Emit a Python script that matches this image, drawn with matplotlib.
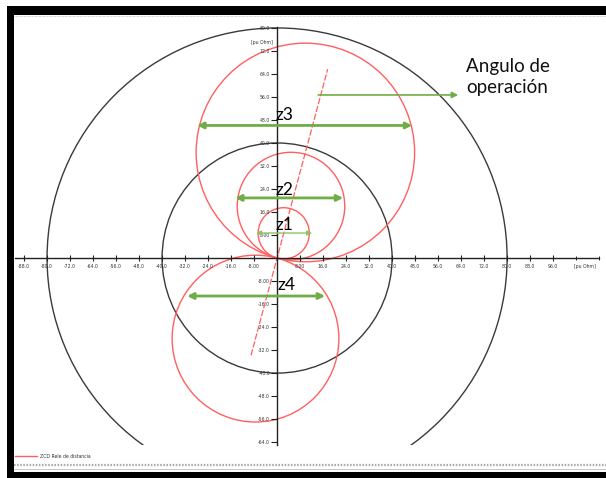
import numpy as np
import matplotlib
matplotlib.use("Agg")
import matplotlib.pyplot as plt
from matplotlib.patches import Circle, Rectangle
from matplotlib.lines import Line2D

# ---------------- data ----------------
zone_names = ["z1", "z2", "z3", "z4"]
zone_reach = [17.8, 37.4, 76.0, 58.0]      # mho circle diameter [pu Ohm]
zone_angle = [75, 75, 75, 255]             # characteristic angle [deg]
ref_radii = [40, 80]                       # reference circles [pu Ohm]
mta_angle = 75                             # operating angle [deg]
mta_span = [-35, 68]                       # extent of the operating-angle line
x_ticks = [-88, -80, -72, -64, -56, -48, -40, -32, -24, -16, -8,
           8, 16, 24, 32, 40, 48, 56, 64, 72, 80, 88, 96]
y_ticks = [-64, -56, -48, -40, -32, -24, -16, -8,
           8, 16, 24, 32, 40, 48, 56, 64, 72, 80]
axis_unit = "[pu Ohm]"
legend_label = "ZCD Rele de distancia"
# reach arrows: (y, x_left, x_right, label_x, label_y)
reach_arrows = [(8.7, -7.3, 12.2, -0.7, 9.7),
                (20.9, -14.6, 23.0, -0.7, 21.9),
                (46.1, -27.8, 47.0, -0.7, 48.0),
                (-13.2, -31.3, 16.7, 0.0, -11.1)]
angle_note = "Angulo de\noperación"

# ---------------- figure ----------------
W, H = 606, 478
fig = plt.figure(figsize=(W / 100, H / 100), dpi=100)
fig.patch.set_facecolor("white")

def fx(px):
    return px / W

def fy(py):
    return 1 - py / H

ax = fig.add_axes([fx(14), fy(445), fx(606) - fx(14), fy(15) - fy(445)])
ax.set_xlim(-91.5, 114.4)
ax.set_ylim(-65.0, 84.5)
ax.set_facecolor("white")

RED = "#ff5f5f"
GREEN = "#70ad47"
DARK = "#3a3a3a"

# reference circles
for r in ref_radii:
    ax.add_patch(Circle((0, 0), r, fill=False, ec=DARK, lw=1.0))

# mho zones
for reach, ang in zip(zone_reach, zone_angle):
    rad = reach / 2
    c = (rad * np.cos(np.radians(ang)), rad * np.sin(np.radians(ang)))
    ax.add_patch(Circle(c, rad, fill=False, ec=RED, lw=1.0))

# operating angle line
t = np.radians(mta_angle)
ax.plot([mta_span[0] * np.cos(t), mta_span[1] * np.cos(t)],
        [mta_span[0] * np.sin(t), mta_span[1] * np.sin(t)],
        color=RED, lw=0.9, ls=(0, (5, 1.5)))

# spines as cross axes
for s in ["top", "right"]:
    ax.spines[s].set_visible(False)
ax.spines["left"].set_position(("data", 0))
ax.spines["bottom"].set_position(("data", 0))
ax.spines["left"].set_bounds(-65, 80.3)
ax.spines["bottom"].set_bounds(-91, 112)
for s in ["left", "bottom"]:
    ax.spines[s].set_color("#222222")
    ax.spines[s].set_linewidth(1.0)

def fmt(v):
    return f"{v:.2f}" if abs(v) < 10 else f"{v:.1f}"

ax.set_xticks(x_ticks)
ax.set_xticklabels([fmt(v) for v in x_ticks])
ax.set_yticks(y_ticks)
ax.set_yticklabels([fmt(v) for v in y_ticks])
ax.set_xticks([v + 4 for v in range(-92, 112, 8)], minor=True)
ax.set_yticks([v + 4 for v in range(-68, 80, 8)], minor=True)
ax.tick_params(axis="x", which="major", direction="inout", length=5,
               width=0.8, color="#222222", labelsize=3.3, labelcolor="#333333", pad=2)
ax.tick_params(axis="x", which="minor", direction="inout", length=3,
               width=0.7, color="#222222")
ax.tick_params(axis="y", which="major", direction="out", length=4,
               width=0.8, color="#222222", labelsize=3.3, labelcolor="#333333", pad=1)
ax.tick_params(axis="y", which="minor", direction="out", length=2.5,
               width=0.7, color="#222222")

ax.text(107, -2.2, axis_unit, fontsize=3.3, color="#333333", ha="center", va="top")
ax.text(-1.5, 74.8, axis_unit, fontsize=3.3, color="#333333", ha="right", va="center")

# reach arrows + labels
for i, (yv, xl, xr, lx, ly) in enumerate(reach_arrows):
    thin = zone_names[i] == "z1"
    ax.annotate("", xy=(xr, yv), xytext=(xl, yv),
                arrowprops=dict(arrowstyle="<|-|>", color=GREEN if not thin else "#8cc46a",
                                lw=1.0 if thin else 2.0, mutation_scale=7 if thin else 9,
                                shrinkA=0, shrinkB=0))
    ax.text(lx, ly, zone_names[i], fontsize=12.5, family="Lato", color="black",
            ha="left", va="baseline")

# operating angle annotation
ax.annotate("", xy=(63.0, 56.7), xytext=(14.3, 56.7),
            arrowprops=dict(arrowstyle="-|>", color=GREEN, lw=1.2,
                            mutation_scale=9, shrinkA=0, shrinkB=0))
fig.text(fx(466), fy(93), angle_note, fontsize=13.5, family="Lato",
         color="#111111", ha="left", va="baseline", linespacing=1.3)

# legend at bottom
fig.lines.append(Line2D([fx(15), fx(37)], [fy(456), fy(456)], color=RED,
                        lw=1.0, transform=fig.transFigure))
fig.text(fx(40), fy(456), legend_label, fontsize=3.3, color="#333333",
         ha="left", va="center")

# frame decorations
fig.lines.append(Line2D([fx(14), fx(606)], [fy(464.5), fy(464.5)], color="#a8a8a8",
                        lw=1.6, ls=(0, (0.7, 0.7)), transform=fig.transFigure))
fig.lines.append(Line2D([fx(14), fx(606)], [fy(469), fy(469)], color="#c8c8c8",
                        lw=0.7, transform=fig.transFigure))
fig.lines.append(Line2D([fx(14), fx(606)], [fy(15.5), fy(15.5)], color="#c4c4c4",
                        lw=0.7, ls=(0, (0.7, 0.7)), transform=fig.transFigure))
for (x0, y0, x1, y1) in [(7, 6, 606, 15), (7, 6, 14, 478), (7, 472, 606, 478)]:
    fig.patches.append(Rectangle((fx(x0), fy(y1)), fx(x1) - fx(x0), fy(y0) - fy(y1),
                                 transform=fig.transFigure, color="black", lw=0))

fig.savefig("out.png", dpi=100)
